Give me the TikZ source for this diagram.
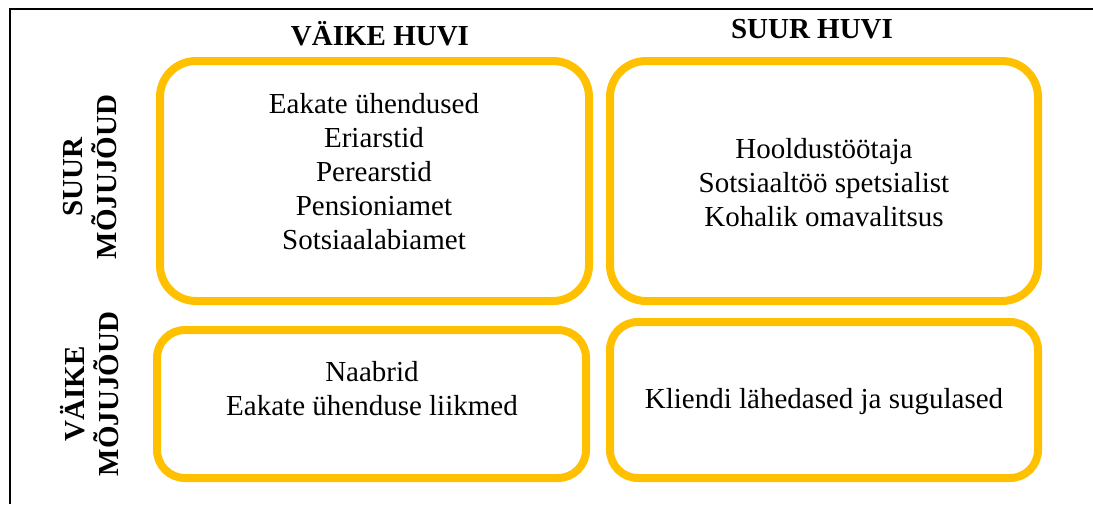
\documentclass[tikz,border=0pt]{standalone}
\usepackage{fontspec}
\setmainfont{Liberation Serif}
\definecolor{gold}{HTML}{FFC000}
\begin{document}
\begin{tikzpicture}[x=1pt,y=-1pt,
  quad/.style={draw=gold,line width=8pt,inner sep=0pt},
  body/.style={align=center,inner sep=0pt,font=\fontsize{29}{34}\selectfont},
  head/.style={inner sep=0pt,anchor=base,font=\fontsize{29}{34}\selectfont\bfseries},
  side/.style={align=center,inner sep=0pt,rotate=90,font=\fontsize{29}{34}\selectfont\bfseries}]
\useasboundingbox (0,0) rectangle (1093,504);
% outer frame (runs past the page on the right and bottom)
\coordinate (fr) at (1093,8.5);
\coordinate (fb) at (9.5,504);
\draw[line width=2pt] (fb) -- (9.5,8.5) -- (fr);
% quadrant boxes
\node[quad,rounded corners=36pt,minimum width=429pt,minimum height=240pt] (tl) at (374.5,181) {};
\node[quad,rounded corners=36pt,minimum width=428pt,minimum height=240pt] (tr) at (824,181) {};
\node[quad,rounded corners=28pt,minimum width=429pt,minimum height=148pt] (bl) at (371.5,404) {};
\node[quad,rounded corners=28pt,minimum width=428pt,minimum height=156pt] (br) at (824,400) {};
% column headings
\node[head] (h1) at (380,45) {VÄIKE HUVI};
\node[head] (h2) at (812,38) {SUUR HUVI};
% row headings
\node[side] (r1) at (90,177) {SUUR\\MÕJUJÕUD};
\node[side] (r2) at (90,394) {VÄIKE\\MÕJUJÕUD};
% box contents
\node[body] (t1) at (374,172) {Eakate ühendused\\Eriarstid\\Perearstid\\Pensioniamet\\Sotsiaalabiamet};
\node[body] (t2) at (824,183) {Hooldustöötaja\\Sotsiaaltöö spetsialist\\Kohalik omavalitsus};
\node[body] (t3) at (372,389) {Naabrid\\Eakate ühenduse liikmed};
\node[body] (t4) at (824,402) {Kliendi lähedased ja sugulased};
\end{tikzpicture}
\end{document}
